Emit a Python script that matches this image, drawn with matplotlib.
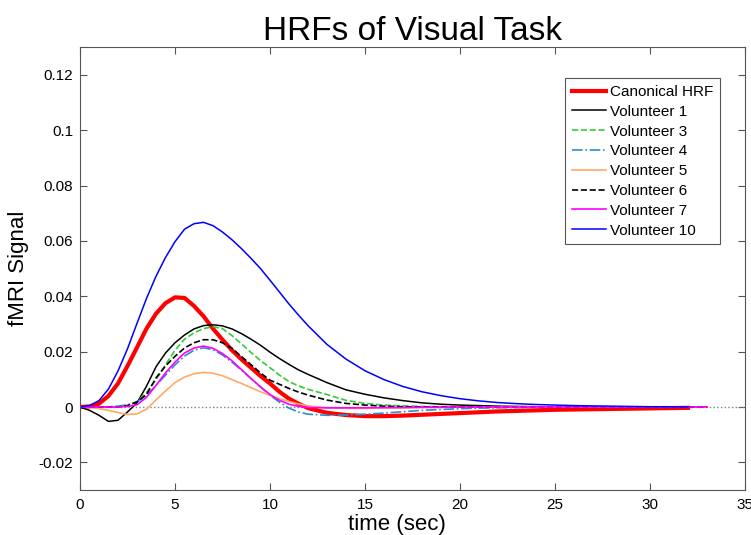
import numpy as np
from matplotlib import pyplot as plt

plt.rcParams.update({'font.family': ['Liberation Sans', 'DejaVu Sans']})

# time axis (sec): half-second steps through the response, then one-second steps
t = [0, 0.5, 1, 1.5, 2, 2.5, 3, 3.5, 4, 4.5, 5, 5.5, 6, 6.5, 7, 7.5, 8, 8.5,
     9, 9.5, 10, 10.5, 11, 11.5, 12, 13, 14, 15, 16, 17, 18, 19, 20, 21, 22,
     23, 24, 25, 26, 27, 28, 29, 30, 31, 32, 33]

canonical = [0, 0.0002, 0.0012, 0.004, 0.0085, 0.0148, 0.0215, 0.0283, 0.0337,
             0.0375, 0.0396, 0.0394, 0.0365, 0.0328, 0.0283, 0.0243, 0.0205,
             0.0172, 0.0142, 0.0112, 0.0085, 0.0055, 0.003, 0.0012, -0.0004,
             -0.0021, -0.0029, -0.0033, -0.0033, -0.0031, -0.0028, -0.0025,
             -0.0022, -0.0019, -0.0016, -0.0014, -0.0012, -0.001, -0.0009,
             -0.0008, -0.0007, -0.0006, -0.0005, -0.0004, -0.0003, np.nan]
vol1 = [0, -0.0012, -0.003, -0.0052, -0.0048, -0.0018, 0.0015, 0.0075, 0.0145,
        0.0195, 0.0232, 0.026, 0.0282, 0.0294, 0.0297, 0.0293, 0.0282, 0.0265,
        0.0245, 0.0223, 0.0198, 0.0175, 0.0154, 0.0134, 0.0118, 0.0088, 0.0062,
        0.0046, 0.0033, 0.0023, 0.0015, 0.001, 0.0007, 0.0005, 0.0003, 0.0002,
        0.0001, 0, 0, 0, 0, 0, 0, 0, 0, 0]
vol3 = [0, 0, 0, 0, 0, 0.0005, 0.002, 0.0052, 0.0098, 0.0152, 0.0205, 0.0245,
        0.0268, 0.0283, 0.029, 0.0283, 0.0258, 0.0228, 0.0197, 0.0168, 0.0142,
        0.0115, 0.0092, 0.0076, 0.0064, 0.0045, 0.0024, 0.0013, 0.0007, 0.0004,
        0.0002, 0.0001, 0, 0, 0, 0, 0, 0, 0, 0, 0, 0, 0, 0, 0, 0]
vol4 = [0, 0, 0, 0.0001, 0.0003, 0.0008, 0.0018, 0.0042, 0.0078, 0.0115, 0.0152,
        0.0184, 0.0205, 0.0214, 0.0207, 0.0188, 0.0162, 0.0133, 0.0103, 0.0072,
        0.0043, 0.0017, -0.0004, -0.0018, -0.0026, -0.003, -0.0029, -0.0026,
        -0.0022, -0.0017, -0.0012, -0.0009, -0.0006, -0.0004, -0.0003, -0.0002,
        -0.0001, 0, 0, 0, 0, 0, 0, 0, 0, 0]
vol5 = [0, -0.0002, -0.0006, -0.0012, -0.002, -0.0027, -0.0025, -0.0008, 0.0025,
        0.0058, 0.0088, 0.0108, 0.012, 0.0125, 0.0122, 0.0113, 0.0099, 0.0085,
        0.007, 0.0055, 0.0042, 0.003, 0.002, 0.0011, 0.0004, -0.0003, -0.0005,
        -0.0005, -0.0004, -0.0003, -0.0002, -0.0001, 0, 0, 0, 0, 0, 0, 0, 0, 0,
        0, 0, 0, 0, 0]
vol6 = [0, 0, 0, 0, 0, 0.0005, 0.0018, 0.0045, 0.0105, 0.0148, 0.0183, 0.0213,
        0.0232, 0.0243, 0.0243, 0.0232, 0.0212, 0.0182, 0.0153, 0.0123, 0.0097,
        0.0082, 0.0067, 0.0054, 0.0043, 0.0025, 0.0013, 0.0007, 0.0003, 0.0001,
        0, 0, 0, 0, 0, 0, 0, 0, 0, 0, 0, 0, 0, 0, 0, 0]
vol7 = [0, 0, 0, 0, 0, 0.0002, 0.0008, 0.0035, 0.0078, 0.0123, 0.0162, 0.0195,
        0.0213, 0.022, 0.0212, 0.0193, 0.0167, 0.0135, 0.0103, 0.0073, 0.0045,
        0.0024, 0.001, 0.0002, -0.0002, -0.0003, -0.0003, -0.0003, -0.0002,
        -0.0002, -0.0001, -0.0001, 0, 0, 0, 0, 0, 0, 0, 0, 0, 0, 0, 0, 0, 0]
vol10 = [0, 0.0005, 0.0023, 0.0065, 0.013, 0.021, 0.0302, 0.0392, 0.0472, 0.054,
         0.0597, 0.0642, 0.0662, 0.0667, 0.0655, 0.0632, 0.0604, 0.0572, 0.0537,
         0.05, 0.0458, 0.0415, 0.0372, 0.0332, 0.0294, 0.0226, 0.0173, 0.0131,
         0.0099, 0.0074, 0.0055, 0.0041, 0.003, 0.0022, 0.0016, 0.0012, 0.0009,
         0.0007, 0.0005, 0.0004, 0.0003, 0.0002, 0.0001, 0.0001, 0, np.nan]

fig = plt.figure(figsize=(7.51, 5.35), dpi=100)
ax = fig.add_axes([0.1065, 0.084, 0.8855, 0.828])

ax.axhline(0, color='gray', linestyle=':', linewidth=1)
ax.plot(t, canonical, color='red', linewidth=3, label='Canonical HRF')
ax.plot(t, vol1, color='black', linewidth=1.1, label='Volunteer 1')
ax.plot(t, vol3, color='#33cc33', linestyle='--', linewidth=1.2, label='Volunteer 3')
ax.plot(t, vol4, color='#2a8fd0', linestyle='-.', linewidth=1.2, label='Volunteer 4')
ax.plot(t, vol5, color='#ffaa66', linewidth=1.2, label='Volunteer 5')
ax.plot(t, vol6, color='black', linestyle='--', linewidth=1.2, label='Volunteer 6')
ax.plot(t, vol7, color='magenta', linewidth=1.2, label='Volunteer 7')
ax.plot(t, vol10, color='blue', linewidth=1.1, label='Volunteer 10')

ax.set_xlim(0, 35)
ax.set_ylim(-0.03, 0.13)
ax.set_xticks(np.arange(0, 36, 5))
ax.set_yticks([-0.02, 0, 0.02, 0.04, 0.06, 0.08, 0.1, 0.12])
ax.set_yticklabels(['-0.02', '0', '0.02', '0.04', '0.06', '0.08', '0.1', '0.12'])
ax.tick_params(direction='in', top=True, right=True, labelsize=11,
               length=5, color='#555555')
ax.tick_params(axis='x', pad=6)
ax.tick_params(axis='y', pad=5)
for s in ax.spines.values():
    s.set_color('#555555')

ax.set_xlabel('time (sec)', fontsize=16)
ax.xaxis.set_label_coords(0.477, -0.055)
ax.set_ylabel('fMRI Signal', fontsize=16, labelpad=7)
ax.set_title('HRFs of Visual Task', fontsize=24, pad=5)

leg = ax.legend(loc='upper right', bbox_to_anchor=(0.962, 0.93), borderaxespad=0,
                fontsize=11, fancybox=False, framealpha=1, edgecolor='#555555',
                handlelength=2.2, handletextpad=0.26, labelspacing=0.38,
                borderpad=0.45)
leg.get_frame().set_linewidth(0.8)

plt.savefig('out.png', dpi=100)
